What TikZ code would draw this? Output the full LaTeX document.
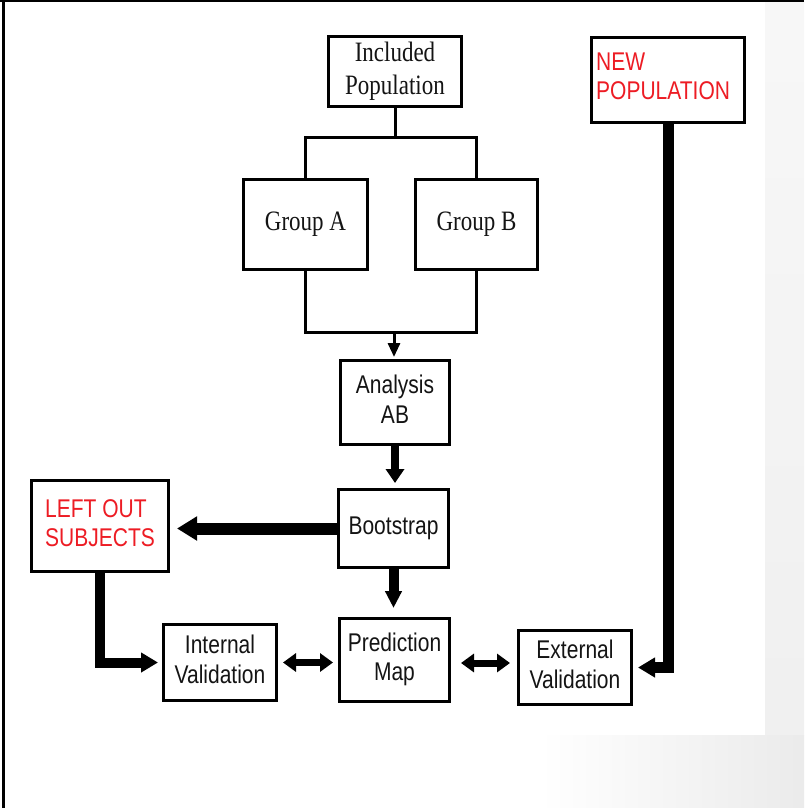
\documentclass[tikz,border=0pt]{standalone}
\usepackage{fontspec}
\setmainfont{Liberation Serif}
\newfontfamily\arialf{Liberation Sans}
\usetikzlibrary{arrows.meta}
\definecolor{myred}{RGB}{237,28,36}
\definecolor{txt}{RGB}{20,20,20}
\newcommand{\vt}[2][c]{\scalebox{1}[1.22]{\begin{tabular}{@{}#1@{}}#2\end{tabular}}}
\begin{document}
\begin{tikzpicture}[x=1pt,y=-1pt,
  box/.style={draw=black, line width=3pt, fill=white, inner sep=0pt, align=center, text=txt},
  serifbox/.style={box, font=\fontsize{23}{26.5}\selectfont},
  sansbox/.style={box, font=\arialf\fontsize{21}{24}\selectfont},
  thinln/.style={line width=3pt},
  thick1/.style={line width=#1, line join=miter}]
\useasboundingbox (0,0) rectangle (804,808);
\fill[white] (0,0) rectangle (804,808);
\shade[top color=black!3, bottom color=black!6] (765,0) rectangle (804,735);
\shade[left color=white, right color=black!8] (540,735) rectangle (804,808);
\draw[line width=3pt] (3,0) -- (3,808);
\draw[line width=2pt] (0,1) -- (804,1);

\node[serifbox, minimum width=133pt, minimum height=70pt] (inc) at (395,71.5) {\vt{Included\\Population}};
\node[serifbox, minimum width=124pt, minimum height=90pt] (ga) at (305.5,224.5) {\vt{Group A}};
\node[serifbox, minimum width=122pt, minimum height=90pt] (gb) at (476.5,224.5) {\vt{Group B}};
\node[sansbox, minimum width=109pt, minimum height=84pt] (an) at (395,402.5) {\vt{Analysis\\AB}};
\node[sansbox, minimum width=110pt, minimum height=78pt] (bs) at (393.5,528.5) {\raisebox{-3pt}{\vt{Bootstrap}}};
\node[sansbox, text=myred, minimum width=137pt, minimum height=91pt] (lo) at (100,526) {\vt[l]{LEFT OUT\\SUBJECTS}};
\node[sansbox, minimum width=110pt, minimum height=83pt] (pm) at (394.5,660) {\vt{Prediction\\Map}};
\node[sansbox, minimum width=113pt, minimum height=76pt] (iv) at (220,662.5) {\vt{Internal\\Validation}};
\node[sansbox, minimum width=113pt, minimum height=74pt] (ev) at (575,667.5) {\vt{External\\Validation}};
\node[sansbox, minimum width=153pt, minimum height=85pt] (np) at (668,80) {};
\node[text=myred, font=\arialf\fontsize{21}{24}\selectfont, inner sep=0pt, anchor=north west] (nptext) at (596,50) {\vt[l]{NEW\\POPULATION}};

\coordinate (j1) at (395,137);
\coordinate (j2) at (394,332);
\draw[thinln] (inc.south) -- (j1);
\draw[thinln] (ga.north) |- (j1) -| (gb.north);
\draw[thinln] (ga.south) |- (j2) -| (gb.south);
\draw[thinln, -{Triangle[width=12pt,length=14pt]}, shorten >=2pt] (j2) -- (j2 |- an.north);

\draw[thick1=8pt, -{Triangle[width=18pt,length=14pt]}, shorten >=5pt] (an.south) -- (an.south |- bs.north);
\draw[thick1=12pt, -{Triangle[width=23pt,length=20pt]}, shorten >=7pt] (bs.west) -- (bs.west -| lo.east);
\draw[thick1=10pt, -{Triangle[width=16pt,length=17pt]}, shorten >=9pt] (bs.south) -- (bs.south |- pm.north);
\draw[thick1=10pt, -{Triangle[width=19pt,length=17pt]}, shorten >=4pt] (lo.south) |- (iv.west);
\draw[thick1=11pt, -{Triangle[width=19pt,length=17pt]}, shorten >=5pt] (np.south) |- (ev.east);
\draw[thick1=7pt, {Triangle[width=18pt,length=13pt]}-{Triangle[width=18pt,length=13pt]}, shorten <=5pt, shorten >=5pt] (iv.east) -- (iv.east -| pm.west);
\draw[thick1=7pt, {Triangle[width=18pt,length=13pt]}-{Triangle[width=18pt,length=13pt]}, shorten <=10pt, shorten >=7pt] (pm.east |- 0,663) -- (ev.west |- 0,663);
\end{tikzpicture}
\end{document}
